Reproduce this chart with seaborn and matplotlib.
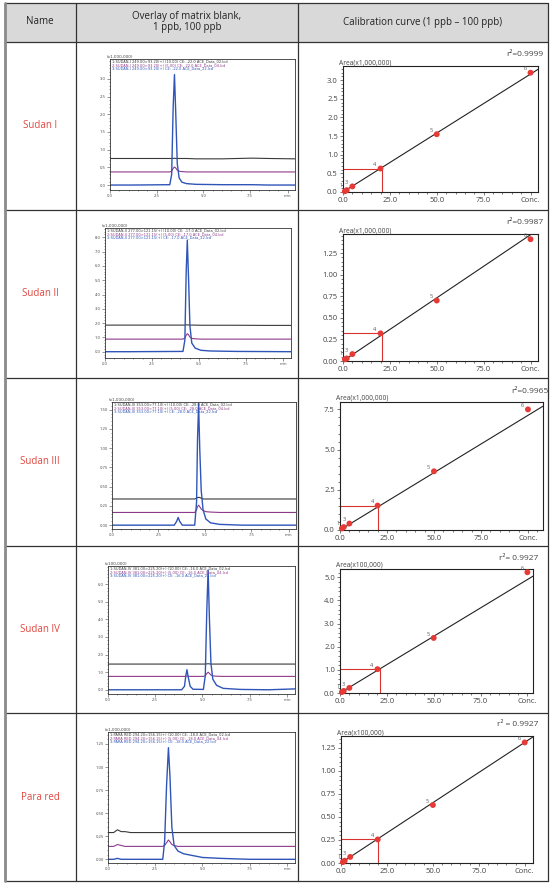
import pandas as pd
import matplotlib.pyplot as plt
import seaborn as sns
from matplotlib.lines import Line2D
from matplotlib.patches import Rectangle
from matplotlib.ticker import MultipleLocator, FormatStrFormatter

# ---- table text ----
names = ["Sudan I", "Sudan II", "Sudan III", "Sudan IV", "Para red"]
headers = ["Name", "Overlay of matrix blank,\n1 ppb, 100 ppb", "Calibration curve (1 ppb \u2013 100 ppb)"]

# ---- chromatograms (time in min, intensity) ----
t1 = [0.0, 0.6, 1.2, 3.2, 3.3, 3.38, 3.45, 3.52, 3.6, 3.7, 3.85, 4.1, 4.6, 6.0, 7.6, 8.5, 9.9]
black1 = [0.75, 0.75, 0.75, 0.75, 0.75, 0.75, 0.76, 0.75, 0.75, 0.75, 0.75, 0.75, 0.74, 0.74, 0.76, 0.75, 0.74]
purple1 = [0.37, 0.37, 0.37, 0.37, 0.39, 0.47, 0.51, 0.48, 0.42, 0.39, 0.38, 0.37, 0.37, 0.37, 0.37, 0.37, 0.37]
blue1 = [0.0, 0.0, 0.0, 0.01, 0.3, 2.2, 3.12, 2.0, 0.6, 0.2, 0.08, 0.04, 0.02, 0.01, 0.01, 0.0, 0.0]

t2 = [0.0, 0.6, 1.2, 4.15, 4.25, 4.32, 4.38, 4.45, 4.52, 4.62, 4.8, 5.1, 5.6, 7.0, 8.5, 9.9]
black2 = [1.86, 1.86, 1.86, 1.86, 1.86, 1.87, 1.88, 1.87, 1.86, 1.86, 1.86, 1.85, 1.85, 1.85, 1.84, 1.84]
purple2 = [0.88, 0.88, 0.88, 0.88, 0.95, 1.15, 1.26, 1.18, 1.02, 0.93, 0.9, 0.88, 0.88, 0.88, 0.88, 0.88]
blue2 = [0.0, 0.0, 0.0, 0.02, 0.8, 5.5, 7.8, 5.0, 1.8, 0.6, 0.25, 0.1, 0.05, 0.02, 0.01, 0.0]

t3 = [0.0, 1.0, 2.0, 3.35, 3.48, 3.56, 3.64, 3.78, 4.45, 4.55, 4.6, 4.66, 4.72, 4.8, 4.9, 5.05, 5.3, 5.8, 7.0, 8.5, 9.9]
black3 = [0.34, 0.34, 0.34, 0.34, 0.34, 0.34, 0.34, 0.34, 0.34, 0.35, 0.36, 0.36, 0.36, 0.35, 0.34, 0.34, 0.34, 0.34, 0.34, 0.34, 0.34]
purple3 = [0.165, 0.165, 0.165, 0.165, 0.165, 0.165, 0.165, 0.165, 0.165, 0.2, 0.24, 0.26, 0.24, 0.21, 0.19, 0.175, 0.17, 0.165, 0.165, 0.165, 0.165]
blue3 = [0.0, 0.0, 0.0, 0.0, 0.05, 0.10, 0.05, 0.0, 0.0, 0.3, 1.1, 1.58, 1.0, 0.45, 0.2, 0.08, 0.03, 0.01, 0.0, 0.0, 0.0]

t4 = [0.0, 1.0, 2.0, 3.9, 4.05, 4.12, 4.18, 4.25, 4.35, 4.5, 5.05, 5.15, 5.23, 5.3, 5.37, 5.45, 5.55, 5.75, 6.1, 7.0, 8.5, 9.9]
black4 = [1.46, 1.46, 1.46, 1.46, 1.46, 1.46, 1.46, 1.46, 1.46, 1.46, 1.46, 1.46, 1.47, 1.48, 1.47, 1.46, 1.46, 1.46, 1.46, 1.46, 1.46, 1.46]
purple4 = [0.76, 0.76, 0.76, 0.76, 0.76, 0.77, 0.78, 0.77, 0.76, 0.76, 0.76, 0.8, 0.92, 1.0, 0.93, 0.84, 0.79, 0.77, 0.76, 0.76, 0.76, 0.76]
blue4 = [0.0, 0.0, 0.0, 0.0, 0.2, 0.8, 1.14, 0.7, 0.2, 0.03, 0.02, 0.8, 4.5, 6.8, 4.0, 1.5, 0.6, 0.25, 0.08, 0.02, 0.0, 0.05]

t5 = [0.0, 0.3, 0.5, 0.7, 0.9, 1.2, 2.0, 2.9, 3.0, 3.1, 3.2, 3.28, 3.38, 3.5, 3.7, 4.0, 4.5, 5.0, 6.0, 7.5, 9.0, 9.9]
black5 = [0.29, 0.29, 0.32, 0.30, 0.30, 0.29, 0.29, 0.29, 0.29, 0.29, 0.29, 0.29, 0.29, 0.29, 0.29, 0.29, 0.29, 0.29, 0.29, 0.29, 0.29, 0.29]
purple5 = [0.14, 0.14, 0.16, 0.15, 0.14, 0.14, 0.14, 0.14, 0.15, 0.18, 0.21, 0.19, 0.16, 0.15, 0.14, 0.14, 0.14, 0.14, 0.14, 0.14, 0.14, 0.14]
blue5 = [0.0, 0.0, 0.01, 0.0, 0.0, 0.0, 0.0, 0.0, 0.2, 0.8, 1.21, 0.9, 0.35, 0.15, 0.09, 0.06, 0.04, 0.02, 0.01, 0.0, 0.0, 0.0]

chrom_units = ["(x1,000,000)", "(x1,000,000)", "(x1,000,000)", "(x100,000)", "(x1,000,000)"]
chrom_traces = ["SUDAN-I 249.00>93.20(+)", "SUDAN-II 277.00>121.15(+)", "SUDAN-III 353.00>77.10(+)",
                "SUDAN-IV 381.00>225.20(+)", "PARA RED 294.20>156.15(+)"]
chrom_ce = ["-22.0", "-17.0", "-28.0", "-16.0", "-18.0"]

# ---- calibration ----
levels = [1, 2, 3, 4, 5, 6]
conc = [1, 2, 5, 20, 50, 100]
area1 = [0.02, 0.05, 0.15, 0.63, 1.55, 3.2]
area2 = [0.02, 0.03, 0.08, 0.32, 0.70, 1.41]
area3 = [0.1, 0.18, 0.4, 1.52, 3.65, 7.5]
area4 = [0.04, 0.09, 0.22, 1.03, 2.38, 5.22]
area5 = [0.01, 0.025, 0.066, 0.256, 0.63, 1.31]
fit_x = [[0, 104], [0, 104], [0, 108], [0, 103], [0, 104.5]]
fit_y = [[0.0, 3.29], [0.0, 1.52], [0.0, 7.7], [0.0, 5.05], [0.0, 1.37]]
guide_x = [21, 21, 20.4, 21.2, 20]
r2_text = ["r\u00b2=0.9999", "r\u00b2=0.9987", "r\u00b2=0.9965", "r\u00b2= 0.9927", "r\u00b2 = 0.9927"]
area_units = ["Area(x1,000,000)", "Area(x1,000,000)", "Area(x1,000,000)", "Area(x100,000)", "Area(x100,000)"]

# ---- layout (pixels) ----
W, H = 550, 883
row_top = [42, 210, 378, 545.5, 713]
row_h = 168
chrom_box = [(110, 295, 59, 190), (105, 291, 228, 358), (112, 296, 402, 529), (108, 295, 566, 694), (108, 295, 732, 863)]
chrom_ylim = [(-0.14, 3.56), (-0.44, 8.65), (-0.05, 1.6), (-0.24, 7.03), (-0.04, 1.38)]
chrom_ystep = [0.5, 1.0, 0.25, 1.0, 0.25]
chrom_ymax = [3.0, 8.0, 1.5, 6.0, 1.25]
chrom_fmt = ["%.1f", "%.1f", "%.2f", "%.1f", "%.2f"]
cal_box = [(343, 538, 66, 192), (343, 538, 234, 361), (340, 543, 402, 530), (340, 533, 569, 693), (341, 533, 736, 863)]
cal_xlim = [104, 104, 108, 103, 104.5]
cal_ylim = [3.38, 1.47, 7.96, 5.36, 1.38]
cal_ystep = [0.5, 0.25, 2.5, 1.0, 0.25]
cal_fmt = ["%.1f", "%.2f", "%.1f", "%.1f", "%.2f"]

sns.set_style("ticks")
plt.rcParams['font.family'] = ['Open Sans', 'DejaVu Sans']

fig = plt.figure(figsize=(W / 100, H / 100), dpi=100)

def fx(x):
    return x / W

def fy(y):
    return 1 - y / H

def add_axes(box):
    l, r, t, b = box
    return fig.add_axes([l / W, 1 - b / H, (r - l) / W, (b - t) / H])

# table frame
fig.add_artist(Rectangle((fx(5), fy(42)), fx(548) - fx(5), fy(3) - fy(42),
                         transform=fig.transFigure, facecolor="#d9d9d9", edgecolor="none", zorder=0))
line_kw = dict(transform=fig.transFigure, color="#333333", lw=0.9)
for y in [3, 42] + row_top[1:] + [881]:
    fig.add_artist(Line2D([fx(5), fx(548)], [fy(y), fy(y)], **line_kw))
for x in [76, 298, 548]:
    fig.add_artist(Line2D([fx(x), fx(x)], [fy(3), fy(881)], **line_kw))
fig.add_artist(Line2D([fx(5), fx(5)], [fy(3), fy(881)], transform=fig.transFigure, color="#8a8a8a", lw=2))

fig.text(fx(40), fy(22), headers[0], ha="center", va="center", fontsize=7, color="#222222")
fig.text(fx(187), fy(22), headers[1], ha="center", va="center", fontsize=7, color="#222222", linespacing=1.1)
fig.text(fx(423), fy(22), headers[2], ha="center", va="center", fontsize=7, color="#222222")

chrom_t = [t1, t2, t3, t4, t5]
chrom_black = [black1, black2, black3, black4, black5]
chrom_purple = [purple1, purple2, purple3, purple4, purple5]
chrom_blue = [blue1, blue2, blue3, blue4, blue5]
areas = [area1, area2, area3, area4, area5]

c_black, c_purple, c_blue, c_red = "#3a3a3a", "#8e3a8a", "#2f55b8", "#e53a35"

for i in range(5):
    fig.text(fx(40), fy(row_top[i] + row_h / 2), names[i], ha="center", va="center",
             fontsize=7, color="#e0463f")

    # chromatogram overlay
    ax = add_axes(chrom_box[i])
    for ys, col, lw in [(chrom_black[i], c_black, 0.8), (chrom_purple[i], c_purple, 0.8), (chrom_blue[i], c_blue, 1.0)]:
        sns.lineplot(x=chrom_t[i], y=ys, ax=ax, color=col, lw=lw, sort=False, estimator=None)
    ax.set_xlim(0, 9.9)
    ax.set_ylim(*chrom_ylim[i])
    ax.set_xticks([0, 2.5, 5.0, 7.5, 9.5])
    ax.set_xticklabels(["0.0", "2.5", "5.0", "7.5", "min"])
    ax.xaxis.set_minor_locator(MultipleLocator(0.5))
    n = int(round(chrom_ymax[i] / chrom_ystep[i]))
    ax.set_yticks([k * chrom_ystep[i] for k in range(n + 1)])
    ax.yaxis.set_major_formatter(FormatStrFormatter(chrom_fmt[i]))
    ax.yaxis.set_minor_locator(MultipleLocator(chrom_ystep[i] / 5))
    ax.tick_params(which="both", direction="out", labelsize=3, colors="#444444", pad=1, width=0.4)
    ax.tick_params(which="major", length=2)
    ax.tick_params(which="minor", length=1)
    for s in ax.spines.values():
        s.set_linewidth(0.6)
        s.set_color("#333333")
    ax.text(-0.02, 1.0, chrom_units[i], transform=ax.transAxes, fontsize=3, color="#444444",
            ha="left", va="bottom", family="DejaVu Sans")
    info = [("1:" + chrom_traces[i] + " (10.00) CE: " + chrom_ce[i] + " ACE_Data_02.lcd", c_black),
            ("2:" + chrom_traces[i] + " (5.00) CE: " + chrom_ce[i] + " ACE_Data_04.lcd", c_purple),
            ("3:" + chrom_traces[i] + " CE: " + chrom_ce[i] + " ACE_Data_22.lcd", c_blue)]
    for k, (txt, col) in enumerate(info):
        ax.text(0.01, 0.995 - k * 0.027, txt, transform=ax.transAxes, fontsize=2.6, color=col,
                ha="left", va="top", family="DejaVu Sans")
    ax.set_xlabel("")
    ax.set_ylabel("")

    # calibration curve
    cx = add_axes(cal_box[i])
    sns.lineplot(x=fit_x[i], y=fit_y[i], ax=cx, color="#222222", lw=0.8, sort=False, estimator=None)
    gy = areas[i][3]
    cx.plot([0, guide_x[i], guide_x[i]], [gy, gy, 0], color="#d8332e", lw=0.8)
    sns.scatterplot(x=conc, y=areas[i], ax=cx, color=c_red, s=18, edgecolor="none", zorder=5, clip_on=False)
    for lv, xv, yv in zip(levels, conc, areas[i]):
        if lv < 3:
            continue
        cx.annotate(str(lv), (xv, yv), xytext=(-4, 1), textcoords="offset points",
                    fontsize=4, color="#555555", ha="center", va="bottom")
    cx.annotate("1", (conc[0], areas[i][0]), xytext=(-3, 2), textcoords="offset points",
                fontsize=3.5, color="#555555", ha="center", va="bottom")
    cx.set_xlim(0, cal_xlim[i])
    cx.set_ylim(0, cal_ylim[i])
    cx.set_xticks([0, 25, 50, 75, 100])
    cx.set_xticklabels(["0.0", "25.0", "50.0", "75.0", "Conc."])
    cx.xaxis.set_minor_locator(MultipleLocator(5))
    cx.yaxis.set_major_locator(MultipleLocator(cal_ystep[i]))
    cx.yaxis.set_major_formatter(FormatStrFormatter(cal_fmt[i]))
    cx.yaxis.set_minor_locator(MultipleLocator(cal_ystep[i] / 5))
    cx.tick_params(which="both", direction="out", labelsize=5.5, colors="#444444", pad=1.2, width=0.5)
    cx.tick_params(which="major", length=2.5)
    cx.tick_params(which="minor", length=1.2)
    for s in cx.spines.values():
        s.set_linewidth(0.8)
        s.set_color("#222222")
    cx.text(-0.02, 1.0, area_units[i], transform=cx.transAxes, fontsize=4.8, color="#444444",
            ha="left", va="bottom")
    fig.text(fx(cal_box[i][1] + 5), fy(cal_box[i][2] - 11), r2_text[i], ha="right", va="center",
             fontsize=6, color="#444444")
    cx.set_xlabel("")
    cx.set_ylabel("")

fig.savefig("out.png", dpi=100)
